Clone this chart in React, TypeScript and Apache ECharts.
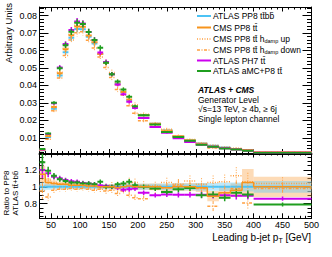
import React, { useEffect, useRef } from "react";
import * as echarts from "echarts";

// ---------- data ----------
const binEdges = [30, 40, 50, 60, 70, 80, 90, 100, 110, 120, 130, 140, 150, 160, 170, 180, 190, 200, 220, 240, 260, 280, 300, 320, 340, 360, 380, 400, 500];

// ATLAS PP8 ttbb (reference), arbitrary units per bin
const atlasPP8 = [0.0028, 0.0105, 0.0266, 0.0457, 0.059, 0.0674, 0.0724, 0.0723, 0.068, 0.0641, 0.0581, 0.053, 0.0465, 0.041, 0.0363, 0.0316, 0.0276, 0.023, 0.018, 0.0142, 0.0108, 0.0084, 0.0067, 0.0054, 0.0044, 0.0036, 0.0029, 0.0017];

// ratios to ATLAS PP8
const ratioCMS = [1.15, 1.05, 1.04, 1.03, 1.03, 1.02, 1.02, 1.02, 1.01, 1.01, 1.0, 1.0, 1.0, 0.99, 1.0, 1.01, 1.0, 1.0, 1.0, 0.99, 1.0, 1.0, 0.99, 0.89, 0.93, 0.96, 1.05, 1.0];
const ratioUp = [1.02, 1.08, 1.05, 1.04, 1.04, 1.03, 1.03, 1.02, 1.01, 1.01, 1.0, 1.0, 1.02, 1.02, 1.03, 1.06, 1.05, 1.02, 1.01, 1.05, 1.03, 1.07, 1.03, 1.05, 1.06, 1.13, 1.06, 1.04];
const ratioDown = [0.95, 0.88, 0.96, 0.97, 0.97, 0.98, 0.97, 0.98, 0.97, 0.96, 0.97, 0.95, 0.96, 0.92, 0.95, 0.9, 0.87, 0.86, 0.97, 0.99, 1.02, 1.0, 0.98, 0.77, 0.93, 0.98, 0.81, 0.98];
const ratioPH7 = [1.2, 1.16, 1.12, 1.1, 1.08, 1.065, 1.06, 1.045, 1.04, 1.03, 1.015, 1.01, 1.0, 0.99, 0.965, 0.97, 0.98, 0.93, 0.9, 0.91, 0.905, 0.905, 0.905, 0.9, 0.9, 0.895, 0.895, 0.86];
const ratioAMC = [1.29, 1.19, 1.13, 1.09, 1.07, 1.05, 1.05, 1.04, 1.04, 1.03, 1.06, 1.0, 1.0, 1.03, 1.04, 1.06, 1.02, 1.0, 0.98, 0.94, 0.97, 0.985, 0.9, 0.91, 0.87, 0.93, 0.91, 0.79];

// relative statistical uncertainties
const errNominal = [0.08, 0.04, 0.03, 0.028, 0.026, 0.025, 0.025, 0.025, 0.025, 0.025, 0.025, 0.025, 0.026, 0.027, 0.028, 0.03, 0.03, 0.028, 0.03, 0.032, 0.034, 0.036, 0.04, 0.042, 0.045, 0.05, 0.05, 0.03];
const errHdamp = [0.1, 0.05, 0.035, 0.03, 0.03, 0.03, 0.03, 0.03, 0.03, 0.03, 0.035, 0.035, 0.035, 0.04, 0.04, 0.045, 0.045, 0.045, 0.05, 0.055, 0.06, 0.06, 0.07, 0.08, 0.08, 0.09, 0.1, 0.07];
// uncertainty bands in the ratio panel (half widths)
const bandATLAS = [0.05, 0.035, 0.03, 0.03, 0.03, 0.03, 0.03, 0.03, 0.03, 0.03, 0.03, 0.03, 0.03, 0.03, 0.03, 0.035, 0.035, 0.035, 0.035, 0.04, 0.04, 0.04, 0.045, 0.045, 0.05, 0.05, 0.055, 0.07];
const bandCMS = [0.1, 0.05, 0.035, 0.03, 0.03, 0.03, 0.03, 0.03, 0.03, 0.03, 0.03, 0.03, 0.03, 0.03, 0.035, 0.035, 0.035, 0.035, 0.04, 0.04, 0.045, 0.045, 0.05, 0.06, 0.07, 0.08, 0.16, 0.12];

// ticks
const xMajorTicks = [50, 100, 150, 200, 250, 300, 350, 400, 450, 500];
const yTopTicks = [0.01, 0.02, 0.03, 0.04, 0.05, 0.06, 0.07, 0.08];
const yRatioTicks = [0.8, 1, 1.2];

// ---------- style ----------
const FONT = "Liberation Sans";
const C_ATLAS = "#4cc3f5";
const C_CMS = "#f7941d";
const C_HD = "#ffa040";
const C_PH7 = "#cc00ee";
const C_AMC = "#1f9e1f";

const X_MIN = 30, X_MAX = 500;
const YT_MIN = 0.001, YT_MAX = 0.085;
const YR_MIN = 0.628, YR_MAX = 1.394;

function range(a: number, b: number, step: number, skip: number[]): number[] {
  const out: number[] = [];
  const n = Math.round((b - a) / step);
  for (let i = 0; i <= n; i++) {
    const v = Math.round((a + i * step) * 10000) / 10000;
    if (!skip.some((s) => Math.abs(s - v) < 1e-6)) out.push(v);
  }
  return out;
}
const xMinorTicks = range(30, 500, 10, xMajorTicks);
const yTopMinor = range(0.002, 0.084, 0.002, yTopTicks);
const yRatioMinor = range(0.65, 1.35, 0.05, yRatioTicks);

function histData(values: number[], err: number[]) {
  return values.map((v, i) => [binEdges[i], binEdges[i + 1], v, v * err[i]]);
}

function crossRender(color: string, lw: number, dash: any) {
  return (params: any, api: any) => {
    const lo = api.value(0), hi = api.value(1), v = api.value(2), e = api.value(3);
    const a = api.coord([lo, v]);
    const b = api.coord([hi, v]);
    const mid = (lo + hi) / 2;
    const t = api.coord([mid, v + e]);
    const bt = api.coord([mid, v - e]);
    return {
      type: "group",
      children: [
        { type: "line", shape: { x1: a[0], y1: a[1], x2: b[0], y2: b[1] }, style: { stroke: color, lineWidth: lw, lineDash: dash, fill: null } },
        { type: "line", shape: { x1: t[0], y1: t[1], x2: bt[0], y2: bt[1] }, style: { stroke: color, lineWidth: Math.max(1, lw - 0.5), lineDash: dash, fill: null } },
      ],
    };
  };
}

function bandRender(fill: string) {
  return (params: any, api: any) => {
    const lo = api.value(0), hi = api.value(1), v = api.value(2), e = api.value(3);
    const p1 = api.coord([lo, v + e]);
    const p2 = api.coord([hi, v - e]);
    return { type: "rect", shape: { x: p1[0], y: p1[1], width: p2[0] - p1[0], height: p2[1] - p1[1] }, style: { fill } };
  };
}

function xAx(gridIndex: number, position: string, ticks: number[], len: number, extra: any = {}) {
  return {
    type: "value", gridIndex, position, min: X_MIN, max: X_MAX,
    axisLine: { show: true, onZero: false, lineStyle: { color: "#000", width: 1 } },
    axisTick: { show: true, inside: true, length: len, customValues: ticks, lineStyle: { color: "#000", width: 1 } },
    axisLabel: { show: false },
    splitLine: { show: false },
    ...extra,
  };
}
function yAx(gridIndex: number, position: string, min: number, max: number, ticks: number[], len: number, extra: any = {}) {
  return {
    type: "value", gridIndex, position, min, max,
    axisLine: { show: true, onZero: false, lineStyle: { color: "#000", width: 1 } },
    axisTick: { show: true, inside: true, length: len, customValues: ticks, lineStyle: { color: "#000", width: 1 } },
    axisLabel: { show: false },
    splitLine: { show: false },
    ...extra,
  };
}

const labelStyle = { color: "#000", fontFamily: FONT, fontSize: 9 };

const topSeries = [
  { name: "ATLAS PP8", color: C_ATLAS, ratio: atlasPP8.map((v, i) => atlasPP8[i] / v), err: errNominal, lw: 2, dash: null },
  { name: "CMS PP8", color: C_CMS, ratio: ratioCMS, err: errNominal, lw: 2, dash: null },
  { name: "hdamp up", color: C_HD, ratio: ratioUp, err: errHdamp, lw: 1.5, dash: [1, 1.5] },
  { name: "hdamp down", color: C_HD, ratio: ratioDown, err: errHdamp, lw: 1.5, dash: [3, 1.5, 1, 1.5] },
  { name: "PH7", color: C_PH7, ratio: ratioPH7, err: errNominal, lw: 2, dash: null },
  { name: "aMC", color: C_AMC, ratio: ratioAMC, err: errNominal, lw: 2, dash: null },
];

const series: any[] = [];
topSeries.forEach((s) => {
  series.push({
    type: "custom", name: s.name + " top", xAxisIndex: 0, yAxisIndex: 0, clip: true,
    renderItem: crossRender(s.color, s.lw, s.dash),
    encode: { x: [0, 1], y: 2 },
    data: histData(atlasPP8.map((v, i) => v * s.ratio[i]), s.err),
  });
});

// ratio panel
series.push({
  type: "custom", name: "band CMS", xAxisIndex: 4, yAxisIndex: 4, clip: true,
  renderItem: bandRender("rgba(250,175,95,0.45)"), encode: { x: [0, 1], y: 2 },
  data: ratioCMS.map((v, i) => [binEdges[i], binEdges[i + 1], v, bandCMS[i]]),
});
series.push({
  type: "custom", name: "band ATLAS", xAxisIndex: 4, yAxisIndex: 4, clip: true,
  renderItem: bandRender("rgba(110,205,245,0.45)"), encode: { x: [0, 1], y: 2 },
  data: atlasPP8.map((v, i) => [binEdges[i], binEdges[i + 1], v / atlasPP8[i], bandATLAS[i]]),
});
series.push({
  type: "custom", name: "ratio ATLAS", xAxisIndex: 4, yAxisIndex: 4, clip: true,
  renderItem: crossRender(C_ATLAS, 2, null), encode: { x: [0, 1], y: 2 },
  data: atlasPP8.map((v, i) => [binEdges[i], binEdges[i + 1], v / atlasPP8[i], 0]),
});
series.push({
  type: "line", name: "ratio CMS", xAxisIndex: 4, yAxisIndex: 4, step: "end", symbol: "none",
  lineStyle: { color: C_CMS, width: 1.5 }, clip: true,
  data: [...ratioCMS.map((v, i) => [binEdges[i], v]), [binEdges[binEdges.length - 1], ratioCMS[ratioCMS.length - 1]]],
});
[
  { c: C_HD, r: ratioUp, e: errHdamp, lw: 1.5, d: [1, 1.5] },
  { c: C_HD, r: ratioDown, e: errHdamp, lw: 1.5, d: [3, 1.5, 1, 1.5] },
  { c: C_PH7, r: ratioPH7, e: errNominal, lw: 2, d: null },
  { c: C_AMC, r: ratioAMC, e: errNominal, lw: 2, d: null },
].forEach((s, k) => {
  series.push({
    type: "custom", name: "ratio " + k, xAxisIndex: 4, yAxisIndex: 4, clip: true,
    renderItem: crossRender(s.c, s.lw, s.d), encode: { x: [0, 1], y: 2 },
    data: histData(s.r, s.e),
  });
});

// legend + labels (graphic)
const legendRows = [
  { y: 16, color: C_ATLAS, dash: null, w: 2, text: "ATLAS PP8 tt\u0304bb\u0304" },
  { y: 27.5, color: C_CMS, dash: null, w: 2, text: "CMS PP8 tt\u0304" },
  { y: 39, color: C_HD, dash: [1, 1.5], w: 1.5, text: "CMS PP8 tt\u0304 h{sub|damp} up" },
  { y: 50, color: C_HD, dash: [3, 1.5, 1, 1.5], w: 1.5, text: "CMS PP8 tt\u0304 h{sub|damp} down" },
  { y: 60.5, color: C_PH7, dash: null, w: 2, text: "ATLAS PH7 tt\u0304" },
  { y: 71, color: C_AMC, dash: null, w: 2, text: "ATLAS aMC+P8 tt\u0304" },
];
const graphic: any[] = [];
legendRows.forEach((r) => {
  graphic.push({ type: "line", shape: { x1: 197, y1: r.y, x2: 211, y2: r.y }, style: { stroke: r.color, lineWidth: r.w, lineDash: r.dash } });
  graphic.push({
    type: "text", x: 213, y: r.y,
    style: { text: r.text, fill: "#000", fontFamily: FONT, fontSize: 8.5, verticalAlign: "middle", align: "left", rich: { sub: { fontSize: 5.5, fontFamily: FONT, padding: [4, 0, 0, 0] } } },
  });
});
const infoLines = [
  { y: 89.5, text: "ATLAS + CMS", bold: true },
  { y: 99.5, text: "Generator Level", bold: false },
  { y: 109, text: "\u221As=13 TeV, \u2265 4b, \u2265 6j", bold: false },
  { y: 118.5, text: "Single lepton channel", bold: false },
];
infoLines.forEach((l) => {
  graphic.push({
    type: "text", x: 198, y: l.y,
    style: { text: l.text, fill: "#000", fontFamily: FONT, fontSize: 8.5, fontWeight: l.bold ? "bold" : "normal", fontStyle: l.bold ? "italic" : "normal", verticalAlign: "middle", align: "left" },
  });
});
graphic.push({
  type: "text", x: 8.5, y: 33, rotation: Math.PI / 2,
  style: { text: "Arbitrary Units", fill: "#000", fontFamily: FONT, fontSize: 9.5, align: "center", verticalAlign: "middle" },
});
graphic.push({
  type: "text", x: 6.5, y: 193, rotation: Math.PI / 2,
  style: { text: "Ratio to PP8", fill: "#000", fontFamily: FONT, fontSize: 8, align: "center", verticalAlign: "middle" },
});
graphic.push({
  type: "text", x: 15.5, y: 193, rotation: Math.PI / 2,
  style: { text: "ATLAS tt\u0304+bb\u0304", fill: "#000", fontFamily: FONT, fontSize: 8, align: "center", verticalAlign: "middle" },
});
graphic.push({
  type: "text", x: 311, y: 237.5,
  style: { text: "Leading b-jet p{sub|T} [GeV]", fill: "#000", fontFamily: FONT, fontSize: 10, align: "right", verticalAlign: "middle", rich: { sub: { fontSize: 7, fontFamily: FONT, padding: [5, 0, 0, 0] } } },
});

const option: any = {
  animation: false,
  backgroundColor: "#fff",
  textStyle: { fontFamily: FONT },
  grid: [
    { left: 39.5, right: 20.5, top: 7, height: 146.5, containLabel: false, outerBoundsMode: "none" },
    { left: 39.5, right: 20.5, top: 153.5, height: 64.8, containLabel: false, outerBoundsMode: "none" },
  ],
  xAxis: [
    xAx(0, "bottom", xMajorTicks, 4.5, { axisLine: { show: true, onZero: false, lineStyle: { color: "#000", width: 2 } } }),
    xAx(0, "bottom", xMinorTicks, 2.5, { axisLine: { show: false } }),
    xAx(0, "top", xMajorTicks, 4.5),
    xAx(0, "top", xMinorTicks, 2.5, { axisLine: { show: false } }),
    xAx(1, "bottom", xMajorTicks, 5, { axisLabel: { show: true, customValues: xMajorTicks, margin: 2, ...labelStyle } }),
    xAx(1, "bottom", xMinorTicks, 2.5, { axisLine: { show: false } }),
    xAx(1, "top", xMajorTicks, 4),
    xAx(1, "top", xMinorTicks, 2, { axisLine: { show: false } }),
  ],
  yAxis: [
    yAx(0, "left", YT_MIN, YT_MAX, yTopTicks, 9, { axisLabel: { show: true, customValues: yTopTicks, margin: 2.5, formatter: (v: number) => v.toFixed(2), ...labelStyle } }),
    yAx(0, "left", YT_MIN, YT_MAX, yTopMinor, 4.5, { axisLine: { show: false } }),
    yAx(0, "right", YT_MIN, YT_MAX, yTopTicks, 9),
    yAx(0, "right", YT_MIN, YT_MAX, yTopMinor, 4.5, { axisLine: { show: false } }),
    yAx(1, "left", YR_MIN, YR_MAX, yRatioTicks, 8, { axisLabel: { show: true, customValues: yRatioTicks, margin: 2.5, formatter: (v: number) => (Math.abs(v - 1) < 1e-6 ? "1" : v.toFixed(1)), ...labelStyle } }),
    yAx(1, "left", YR_MIN, YR_MAX, yRatioMinor, 4, { axisLine: { show: false } }),
    yAx(1, "right", YR_MIN, YR_MAX, yRatioTicks, 8),
    yAx(1, "right", YR_MIN, YR_MAX, yRatioMinor, 4, { axisLine: { show: false } }),
  ],
  series,
  graphic,
};

export default function App() {
  const ref = useRef<HTMLDivElement>(null);
  useEffect(() => {
    const chart = echarts.init(ref.current as HTMLDivElement, null, { renderer: "svg" });
    chart.setOption(option);
    return () => chart.dispose();
  }, []);
  return <div ref={ref} style={{ width: 332, height: 257, position: "absolute", left: 0, top: 0 }} />;
}
